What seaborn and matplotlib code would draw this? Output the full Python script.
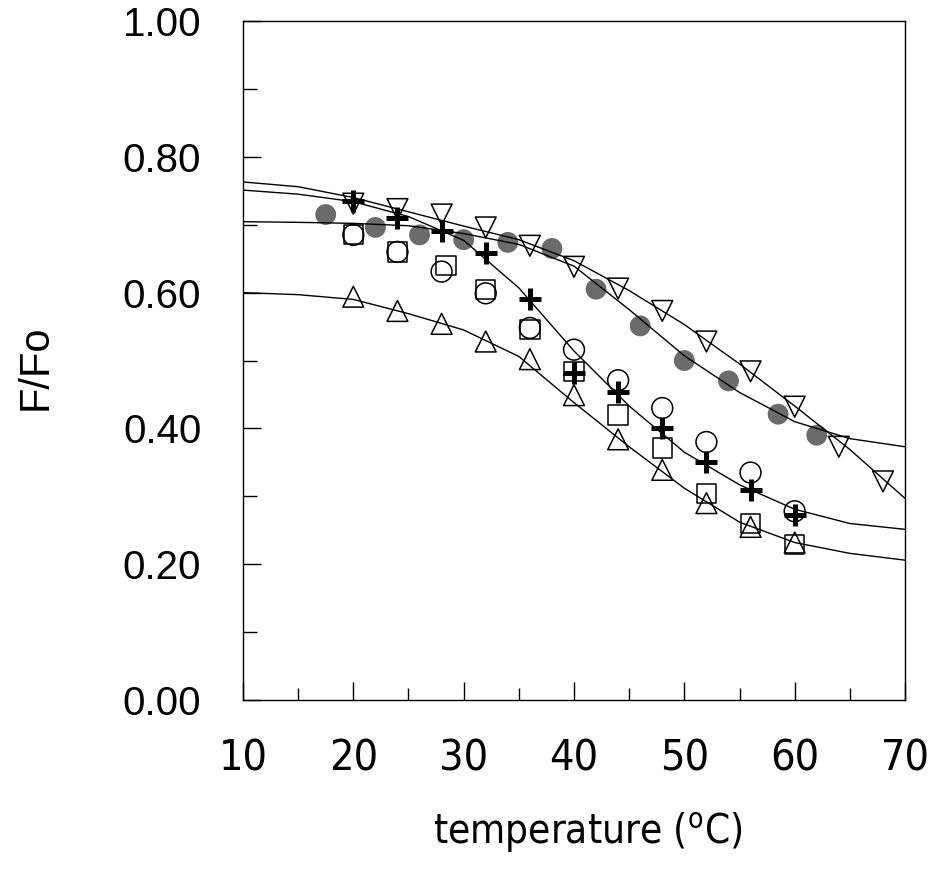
#Import Libraries
import matplotlib
matplotlib.use("Agg")
import matplotlib.pyplot as plt
from matplotlib import font_manager
from matplotlib.font_manager import FontProperties
from matplotlib.ticker import MultipleLocator, FormatStrFormatter
import seaborn as sns

#Data
temp_gray = [17.5, 22, 26, 30, 34, 38, 42, 46, 50, 54, 58.5, 62]
ff_gray = [0.715, 0.696, 0.685, 0.678, 0.674, 0.665, 0.605, 0.551, 0.500, 0.470, 0.421, 0.390]

temp_down = [20, 24, 28, 32, 36, 40, 44, 48, 52, 56, 60, 64, 68]
ff_down = [0.731, 0.723, 0.715, 0.696, 0.669, 0.638, 0.606, 0.573, 0.528, 0.484, 0.432, 0.373, 0.322]

temp_set = [20, 24, 28, 32, 36, 40, 44, 48, 52, 56, 60]
temp_square = [20, 24, 28.4, 32, 36, 40, 44, 48, 52, 56, 60]
ff_plus = [0.735, 0.710, 0.691, 0.659, 0.591, 0.481, 0.454, 0.400, 0.350, 0.310, 0.272]
ff_circle = [0.685, 0.660, 0.631, 0.599, 0.548, 0.516, 0.471, 0.430, 0.380, 0.335, 0.278]
ff_square = [0.686, 0.660, 0.640, 0.605, 0.546, 0.484, 0.420, 0.371, 0.304, 0.260, 0.229]
ff_up = [0.594, 0.573, 0.554, 0.528, 0.502, 0.449, 0.384, 0.339, 0.290, 0.255, 0.232]

#Fitted curves, read every 5 degrees
temp_fit = [10, 15, 20, 25, 30, 35, 40, 45, 50, 55, 60, 65, 70]
fit_down = [0.763, 0.756, 0.740, 0.719, 0.698, 0.678, 0.647, 0.603, 0.553, 0.495, 0.433, 0.369, 0.297]
fit_gray = [0.7045, 0.7035, 0.702, 0.6985, 0.687, 0.671, 0.639, 0.575, 0.507, 0.453, 0.410, 0.385, 0.373]
fit_plus = [0.751, 0.745, 0.734, 0.712, 0.677, 0.607, 0.514, 0.433, 0.365, 0.317, 0.281, 0.260, 0.2514]
fit_up = [0.600, 0.597, 0.590, 0.569, 0.545, 0.506, 0.438, 0.373, 0.312, 0.262, 0.232, 0.216, 0.206]

#Adjustments
sns.set_theme(style="white")
plt.rcParams["font.family"] = ["Liberation Sans", "DejaVu Sans"]
for key in ["text.color", "axes.labelcolor", "xtick.color", "ytick.color"]:
    plt.rcParams[key] = "black"

#Look for a narrow sans font for the x axis texts
narrow_file = None
for f in font_manager.fontManager.ttflist:
    if "Sans" not in f.name or "Mono" in f.name:
        continue
    if f.style != "normal" or f.weight not in (400, "normal", "regular"):
        continue
    if "Narrow" in f.name or "Condensed" in f.name or f.stretch in ("condensed", "semi-condensed"):
        if narrow_file is None or "Liberation" in f.name:
            narrow_file = f.fname
if narrow_file:
    tick_font = FontProperties(fname=narrow_file, size=31)
    label_font = FontProperties(fname=narrow_file, size=29)
else:
    tick_font = FontProperties(family="Liberation Sans", size=28)
    label_font = FontProperties(family="Liberation Sans", size=26)

fig = plt.figure(figsize=(9.36, 8.72), dpi=100)
ax = fig.add_axes([0.2596, 0.1972, 0.7073, 0.7787])

#Points and curves
sns.scatterplot(x=temp_gray, y=ff_gray, marker="o", s=15**2, color="#6b6b6b", edgecolor="none", ax=ax, zorder=2)
for ff in [fit_down, fit_gray, fit_plus, fit_up]:
    sns.lineplot(x=temp_fit, y=ff, color="black", lw=1.0, sort=False, ax=ax, zorder=3)
sns.scatterplot(x=temp_down, y=ff_down, marker="v", s=15**2, facecolor="none", edgecolor="black", linewidth=1.1, ax=ax, zorder=4)
sns.scatterplot(x=temp_set, y=ff_up, marker="^", s=15**2, facecolor="none", edgecolor="black", linewidth=1.1, ax=ax, zorder=4)
sns.scatterplot(x=temp_square, y=ff_square, marker="s", s=14**2, facecolor="none", edgecolor="black", linewidth=1.1, ax=ax, zorder=4)
sns.scatterplot(x=temp_set, y=ff_circle, marker="o", s=15**2, facecolor="none", edgecolor="black", linewidth=1.1, ax=ax, zorder=4)
sns.scatterplot(x=temp_set, y=ff_plus, marker="+", s=16**2, color="black", linewidth=3.6, ax=ax, zorder=5)

#Axes
ax.set_xlim(10, 70)
ax.set_ylim(0, 1)
ax.xaxis.set_major_locator(MultipleLocator(10))
ax.xaxis.set_minor_locator(MultipleLocator(5))
ax.yaxis.set_major_locator(MultipleLocator(0.2))
ax.yaxis.set_minor_locator(MultipleLocator(0.1))
ax.yaxis.set_major_formatter(FormatStrFormatter("%.2f"))
ax.tick_params(which="both", direction="in", color="black", width=1.0,
               bottom=True, left=True, top=False, right=False)
ax.tick_params(axis="x", which="major", length=13, pad=27)
ax.tick_params(axis="x", which="minor", length=9)
ax.tick_params(axis="y", which="major", length=13, pad=30, labelsize=29)
ax.tick_params(axis="y", which="minor", length=10)
for lab in ax.get_xticklabels():
    lab.set_fontproperties(tick_font)
for sp in ax.spines.values():
    sp.set_color("black")
    sp.set_linewidth(1.0)

ax.set_xlabel("temperature ($^{\\mathregular{o}}$C)", fontproperties=label_font)
ax.set_ylabel("F/Fo", fontsize=30)
ax.xaxis.set_label_coords(0.52, -0.163)
ax.yaxis.set_label_coords(-0.283, 0.49)

fig.savefig("out.png", dpi=100, facecolor="white")
